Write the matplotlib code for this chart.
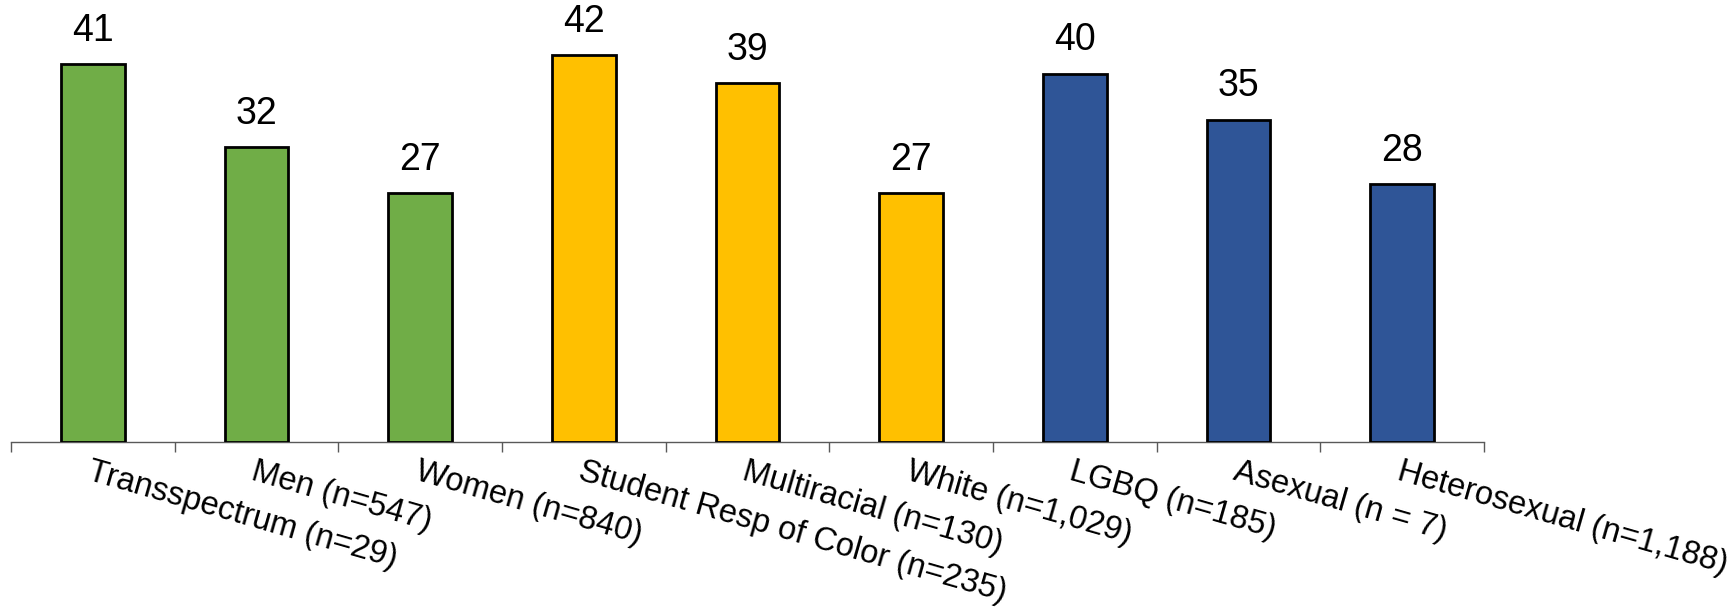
import matplotlib
matplotlib.use("Agg")
import matplotlib.pyplot as plt
import numpy as np

categories = ["Transspectrum (n=29)", "Men (n=547)", "Women (n=840)",
              "Student Resp of Color (n=235)", "Multiracial (n=130)", "White (n=1,029)",
              "LGBQ (n=185)", "Asexual (n = 7)", "Heterosexual (n=1,188)"]
values = [41, 32, 27, 42, 39, 27, 40, 35, 28]
colors = ["#70AD47"] * 3 + ["#FFC000"] * 3 + ["#2F5597"] * 3

plt.rcParams['font.family'] = ['Liberation Sans', 'DejaVu Sans']

fig = plt.figure(figsize=(17.33, 6.08), dpi=100)
ax = fig.add_axes([0.0063, 0.273, 0.85, 0.727])

x = np.arange(len(values))
bars = ax.bar(x, values, width=0.39, color=colors, edgecolor="black", linewidth=2.0, zorder=3)
ax.bar_label(bars, labels=[str(v) for v in values], padding=11, fontsize=27)

ax.set_xlim(-0.5, len(values) - 0.5)
ax.set_ylim(0, 48)

for s in ["top", "right", "left"]:
    ax.spines[s].set_visible(False)
ax.spines["bottom"].set_color("#595959")
ax.spines["bottom"].set_linewidth(1.0)
ax.set_yticks([])

# ticks sit between categories, labels at the bar centres
ax.set_xticks(np.arange(len(values) + 1) - 0.5, minor=True)
ax.tick_params(axis="x", which="minor", length=7, width=1.0, color="#595959")
ax.set_xticks(x)
ax.tick_params(axis="x", which="major", length=0, pad=10)
ax.set_xticklabels(categories, rotation=-16, ha="left", va="top",
                   rotation_mode="anchor", fontsize=23.5)

fig.savefig("out.png", dpi=100)
